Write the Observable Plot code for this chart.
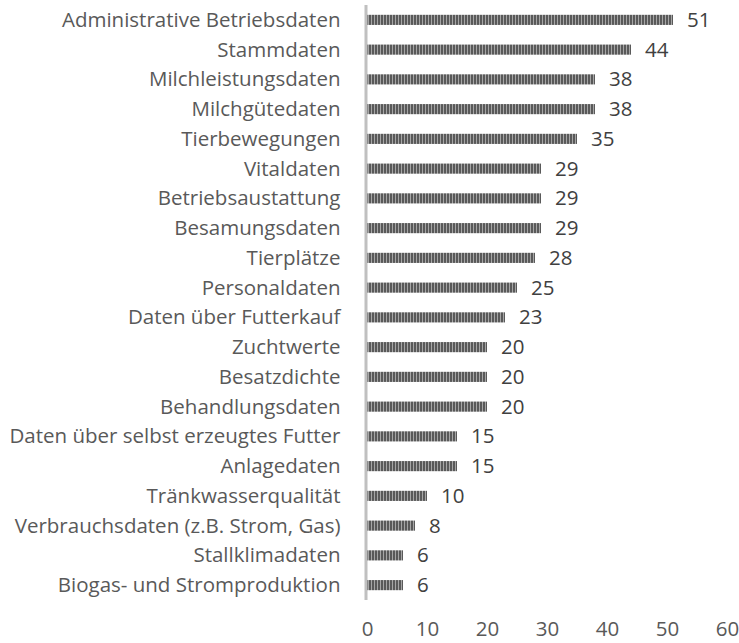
<!DOCTYPE html>
<html><head><meta charset="utf-8">
<script src="https://cdn.jsdelivr.net/npm/d3@7"></script>
<script src="https://cdn.jsdelivr.net/npm/@observablehq/plot@0.6"></script>
<style>
body{margin:0;background:#fff;}
#chart svg{font-family:"Open Sans",sans-serif;}
</style>
</head><body><div id="chart"></div>
<script>
const categories = [
  "Administrative Betriebsdaten","Stammdaten","Milchleistungsdaten","Milchgütedaten",
  "Tierbewegungen","Vitaldaten","Betriebsaustattung","Besamungsdaten","Tierplätze",
  "Personaldaten","Daten über Futterkauf","Zuchtwerte","Besatzdichte","Behandlungsdaten",
  "Daten über selbst erzeugtes Futter","Anlagedaten","Tränkwasserqualität",
  "Verbrauchsdaten (z.B. Strom, Gas)","Stallklimadaten","Biogas- und Stromproduktion"
];
const values = [51,44,38,38,35,29,29,29,28,25,23,20,20,20,15,15,10,8,6,6];
const xTicks = [0,10,20,30,40,50,60];

const data = categories.map((c,i)=>({cat:c, v:values[i]}));

const chart = Plot.plot({
  width: 739,
  height: 643,
  marginLeft: 367,
  marginRight: 12,
  marginTop: 5,
  marginBottom: 43,
  style: {fontSize: "20.5px", color: "#595959", fontFamily: "Open Sans, sans-serif", overflow: "visible"},
  x: {domain: [0,60], ticks: xTicks, tickSize: 0, tickPadding: 21, label: null},
  y: {domain: categories, paddingInner: 0.66, paddingOuter: 0.33, round: false, tickSize: 0, tickPadding: 27, label: null},
  marks: [
    Plot.barX(data, {x: "v", y: "cat", fill: "url(#stripes)"}),
    Plot.ruleX([0], {stroke: "#c0c0c0", strokeWidth: 3, dx: -1.5}),
    Plot.text(data, {x: "v", y: "cat", text: d => String(d.v), dx: 13.5, textAnchor: "start", fill: "#404040", fontSize: 20.5})
  ]
});
const svg = d3.select(chart);
const defs = svg.insert("defs", ":first-child");
const p = defs.append("pattern").attr("id","stripes").attr("patternUnits","userSpaceOnUse")
  .attr("width",3).attr("height",10);
p.append("rect").attr("width",3).attr("height",10).attr("fill","#a6a6a6");
p.append("rect").attr("width",2).attr("height",10).attr("fill","#595959");
document.getElementById("chart").appendChild(chart);
</script>
</body></html>
